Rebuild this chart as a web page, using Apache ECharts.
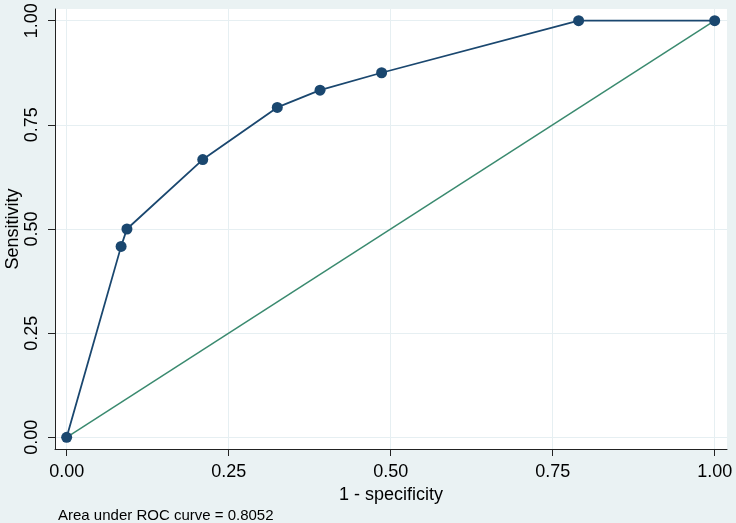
<!DOCTYPE html>
<html>
<head>
<meta charset="utf-8">
<script src="https://cdn.jsdelivr.net/npm/echarts@6/dist/echarts.min.js"></script>
<style>
  html, body { margin: 0; padding: 0; background: #eaf2f3; }
  #chart { width: 736px; height: 523px; }
</style>
</head>
<body>
<div id="chart"></div>
<script>
// ROC points
const fpr = [0, 0.084, 0.093, 0.210, 0.325, 0.391, 0.486, 0.790, 1]
const sensitivity = [0, 0.4583, 0.5, 0.6667, 0.7917, 0.8333, 0.875, 1, 1]
const refX = [0, 1]
const refY = [0, 1]
const tickValues = [0, 0.25, 0.5, 0.75, 1]
const aucText = 'Area under ROC curve = 0.8052'

const font = 'Liberation Sans, Arial, sans-serif'
const rocData = fpr.map((x, i) => [x, sensitivity[i]])
const refData = refX.map((x, i) => [x, refY[i]])

const axisCommon = {
  type: 'value',
  axisLine: { show: true, onZero: false, lineStyle: { color: '#222', width: 1 } },
  axisTick: { show: true, length: 7, customValues: tickValues, lineStyle: { color: '#222' } },
  splitLine: { show: true, lineStyle: { color: '#e6eff2', width: 1 } },
  nameLocation: 'middle',
  nameMoveOverlap: false,
  nameTextStyle: { fontFamily: font, fontSize: 18, color: '#000' }
}

const chart = echarts.init(document.getElementById('chart'))
chart.setOption({
  backgroundColor: '#eaf2f3',
  animation: false,
  grid: {
    left: 55, right: 9, top: 9, bottom: 74,
    containLabel: false,
    outerBoundsMode: 'none',
    show: true, backgroundColor: '#ffffff', borderWidth: 0
  },
  xAxis: Object.assign({}, axisCommon, {
    min: -0.018,
    max: 1.019,
    name: '1 - specificity',
    nameGap: 37,
    axisLabel: {
      customValues: tickValues,
      margin: 14,
      fontFamily: font,
      fontSize: 18,
      color: '#000',
      formatter: v => v.toFixed(2)
    }
  }),
  yAxis: Object.assign({}, axisCommon, {
    min: -0.028,
    max: 1.028,
    name: 'Sensitivity',
    nameGap: 33,
    axisLabel: {
      customValues: tickValues,
      rotate: 90,
      margin: 14,
      fontFamily: font,
      fontSize: 18,
      color: '#000',
      formatter: v => v.toFixed(2)
    }
  }),
  series: [
    {
      type: 'line',
      data: refData,
      showSymbol: false,
      lineStyle: { color: '#3a8a6f', width: 1.5 },
      silent: true,
      z: 2
    },
    {
      type: 'line',
      data: rocData,
      symbol: 'circle',
      symbolSize: 11,
      itemStyle: { color: '#1a476f' },
      lineStyle: { color: '#1a476f', width: 1.8 },
      z: 3
    }
  ],
  graphic: [
    {
      type: 'text',
      left: 58,
      top: 508,
      style: { text: aucText, font: '15px ' + font, fill: '#000' }
    }
  ]
})
</script>
</body>
</html>
